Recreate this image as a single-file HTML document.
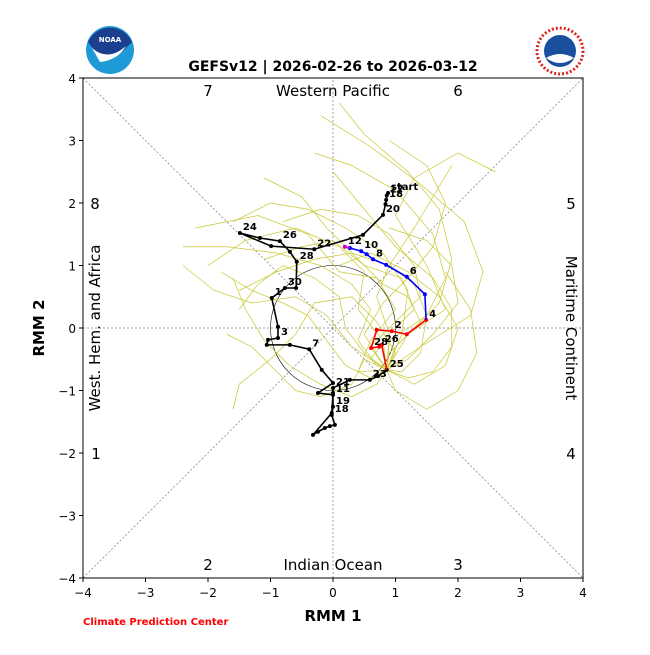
<!DOCTYPE html>
<html><head><meta charset="utf-8"><style>
body{margin:0;background:#fff;width:650px;height:650px;overflow:hidden}
svg text{font-family:"DejaVu Sans","Liberation Sans",sans-serif}
</style></head><body>
<svg id="chart" width="650" height="650" viewBox="0 0 650 650">
<g>
<circle cx="110" cy="50" r="24" fill="#1e9bd7"/>
<path d="M88,42 A24,24 0 0 1 132,42 L126,48 Q116,60 100,58 Q94,50 88,42Z" fill="#1a3f8f"/>
<path d="M92,48 Q108,62 126,46 Q118,60 100,62Z" fill="#fff"/>
<text x="110" y="42" font-size="7" font-weight="bold" fill="#fff" text-anchor="middle">NOAA</text>
</g>
<g>
<circle cx="560" cy="51" r="23" fill="#fff" stroke="#d22" stroke-width="3" stroke-dasharray="2 2"/>
<circle cx="560" cy="51" r="16" fill="#1a4fa0"/>
<path d="M546,58 Q560,50 574,58 Q560,68 546,58Z" fill="#fff"/>
</g>
<text x="333" y="71" font-size="14" font-weight="bold" text-anchor="middle">GEFSv12 | 2026-02-26 to 2026-03-12</text>
<g id="plot"></g>
<rect x="83" y="78" width="500" height="500" fill="none" stroke="#000" stroke-width="1"/>
<text x="333" y="621" font-size="15" font-weight="bold" text-anchor="middle">RMM 1</text>
<text x="44" y="328" font-size="15" font-weight="bold" text-anchor="middle" transform="rotate(-90 44 328)">RMM 2</text>
<text x="83" y="625" font-size="10" font-weight="bold" fill="#f00">Climate Prediction Center</text>
</svg>
<script>
const ticks=[-4,-3,-2,-1,0,1,2,3,4];
const obsDates=["start","17","18","19","20","21","22","23","24","25","26","27","28","29","30","1","2","3","4","5","6","7","8","9","10","11","12","13","14","15","16","17","18","19","20","21","22","23","24","25"];
const obsX=[0.88,0.86,0.85,0.84,0.80,0.48,-0.30,-0.99,-1.49,-1.17,-0.85,-0.69,-0.58,-0.59,-0.77,-0.98,-0.88,-0.88,-1.04,-1.06,-0.69,-0.38,-0.18,0.0,-0.24,0.0,-0.02,-0.32,-0.24,-0.13,-0.05,0.03,-0.02,0.0,0.0,0.0,0.27,0.59,0.72,0.86];
const obsY=[2.16,2.12,2.05,1.98,1.81,1.49,1.26,1.31,1.52,1.44,1.39,1.22,1.06,0.64,0.64,0.48,0.02,-0.16,-0.19,-0.27,-0.27,-0.34,-0.67,-0.88,-1.04,-1.07,-1.36,-1.71,-1.66,-1.60,-1.57,-1.55,-1.39,-1.26,-1.04,-0.96,-0.83,-0.83,-0.77,-0.67];
const obsShow=[1,1,1,0,1,0,1,0,1,0,1,0,1,0,1,1,0,1,0,0,0,1,0,0,0,1,0,0,0,0,0,0,1,1,0,1,0,1,0,1];
const fcDates=["25","26","27","28","1","2","3","4","5","6","7","8","9","10","11","12"];
const fcX=[0.86,0.78,0.74,0.61,0.70,0.94,1.18,1.49,1.47,1.18,0.85,0.64,0.54,0.45,0.27,0.19];
const fcY=[-0.67,-0.27,-0.30,-0.32,-0.03,-0.05,-0.10,0.13,0.54,0.82,1.01,1.10,1.18,1.23,1.28,1.30];
const members=[
[[0.86,-0.67],[0.6,-0.3],[1.0,0.1],[1.4,0.5],[1.3,1.0],[0.9,1.5],[0.4,1.8],[-0.2,1.9],[-0.8,1.7]],
[[0.86,-0.67],[0.9,-0.2],[1.5,0.2],[1.8,0.8],[1.6,1.5],[1.0,2.2],[0.3,2.6],[-0.3,2.8]],
[[0.86,-0.67],[0.5,-0.4],[0.2,0.0],[0.1,0.5],[-0.3,0.8],[-0.8,1.0],[-1.2,0.7],[-1.5,0.3]],
[[0.86,-0.67],[1.2,-0.5],[1.6,-0.1],[2.0,0.4],[1.9,1.0],[1.5,1.4],[0.9,1.6]],
[[0.86,-0.67],[0.7,-0.9],[0.3,-1.1],[-0.2,-0.9],[-0.7,-0.6],[-1.1,-0.2],[-1.4,0.3],[-1.6,0.8]],
[[0.86,-0.67],[1.1,-0.1],[1.2,0.6],[0.8,1.2],[0.2,1.6],[-0.4,1.9],[-1.0,2.0],[-1.6,1.7]],
[[0.86,-0.67],[0.5,-0.1],[0.8,0.4],[1.2,0.8],[1.6,1.3],[1.8,2.0],[1.5,2.6],[0.9,3.0]],
[[0.86,-0.67],[1.3,-0.9],[1.8,-0.6],[2.0,0.0],[1.7,0.5],[1.2,0.9],[0.6,1.2],[0.1,1.0]],
[[0.86,-0.67],[0.6,-0.5],[0.9,-0.1],[1.3,0.3],[1.1,0.8],[0.5,1.0],[0.0,1.4],[-0.5,1.3],[-1.1,1.1]],
[[0.86,-0.67],[1.0,-0.4],[0.7,0.1],[0.3,0.5],[-0.3,0.4],[-0.6,-0.1],[-1.0,-0.5],[-1.5,-0.9],[-1.6,-1.3]],
[[0.86,-0.67],[1.4,-0.3],[2.2,0.2],[2.4,0.9],[2.1,1.7],[1.4,2.3],[0.6,2.9],[-0.2,3.4]],
[[0.86,-0.67],[0.4,-0.7],[0.6,-0.2],[1.0,0.3],[0.7,0.8],[0.1,0.9],[-0.4,1.5],[-1.2,1.8],[-2.2,1.6]],
[[0.86,-0.67],[1.2,-0.1],[1.8,0.3],[1.5,1.0],[1.0,1.8],[1.3,2.4],[2.0,2.8],[2.6,2.5]],
[[0.86,-0.67],[0.3,-0.3],[-0.1,0.2],[-0.6,0.5],[-1.3,0.4],[-1.9,0.6],[-2.4,1.0]],
[[0.86,-0.67],[1.0,-1.0],[1.5,-1.3],[2.0,-1.0],[2.3,-0.4],[2.2,0.3],[1.8,0.9]],
[[0.86,-0.67],[0.8,-0.2],[0.4,0.3],[0.5,0.9],[0.1,1.3],[-0.6,1.6],[-1.4,1.4],[-2.0,1.0]],
[[0.86,-0.67],[0.9,-0.4],[1.3,0.0],[1.7,0.4],[1.9,1.1],[1.7,1.9],[1.2,2.5],[0.5,3.1],[0.1,3.6]],
[[0.86,-0.67],[0.7,-0.6],[0.4,-0.2],[0.6,0.3],[0.3,0.7],[-0.2,1.0],[-0.9,1.2],[-1.7,1.3],[-2.4,1.3]],
[[0.86,-0.67],[1.1,-0.7],[1.4,-0.4],[1.5,0.2],[1.3,0.7],[0.9,1.0],[0.3,1.2],[-0.3,1.1],[-0.9,0.9],[-1.5,0.6]],
[[0.86,-0.67],[0.6,-0.8],[0.2,-0.6],[-0.1,-0.2],[-0.4,0.2],[-0.8,0.4],[-1.3,0.6],[-1.8,0.9]],
[[0.86,-0.67],[1.2,-0.8],[1.6,-0.7],[1.9,-0.3],[1.9,0.3],[1.6,0.8],[1.0,1.3],[0.5,1.9],[0.0,2.5]],
[[0.86,-0.67],[0.9,-0.1],[0.7,0.5],[0.9,1.0],[1.3,1.6],[1.6,2.1],[1.9,2.6]],
[[0.86,-0.67],[0.5,-0.5],[0.3,-0.9],[-0.2,-1.1],[-0.6,-1.0],[-0.9,-0.7],[-1.3,-0.3],[-1.7,-0.1]],
[[0.86,-0.67],[1.0,-0.3],[1.4,0.1],[1.2,0.5],[0.8,0.7],[0.4,1.1],[-0.1,1.6],[-0.5,2.1],[-1.1,2.4]]
];
const X0=83,X1=583,Y0=578,Y1=78;
const sx=v=>X0+(v+4)/8*(X1-X0);
const sy=v=>Y0-(v+4)/8*(Y0-Y1);
const NS='http://www.w3.org/2000/svg';
const plot=document.getElementById('plot');
function mk(tag,attrs,parent){const e=document.createElementNS(NS,tag);for(const k in attrs)e.setAttribute(k,attrs[k]);(parent||plot).appendChild(e);return e;}
let d=mk('line',{x1:sx(-4),y1:sy(-4),x2:sx(4),y2:sy(4),stroke:'#777','stroke-width':0.7,'stroke-dasharray':'2 2'});


d=mk('line',{x1:sx(-4),y1:sy(4),x2:sx(4),y2:sy(-4),stroke:'#777','stroke-width':0.7,'stroke-dasharray':'2 2'});


d=mk('line',{x1:sx(0),y1:sy(-4),x2:sx(0),y2:sy(4),stroke:'#777','stroke-width':0.7,'stroke-dasharray':'2 2'});


d=mk('line',{x1:sx(-4),y1:sy(0),x2:sx(4),y2:sy(0),stroke:'#777','stroke-width':0.7,'stroke-dasharray':'2 2'});


d=mk('circle',{cx:sx(0),cy:sy(0),r:sx(1)-sx(0),fill:'none',stroke:'#000','stroke-width':0.6});


ticks.forEach(t=>{
 let a=mk('line',{x1:sx(t),y1:Y0,x2:sx(t),y2:Y0+4,stroke:'#000'});
 
 
 let tx=mk('text',{x:sx(t),y:Y0+19,'font-size':12,'text-anchor':'middle'});tx.textContent=(t<0?'\u2212'+(-t):t);
 
 
 let b=mk('line',{x1:X0-4,y1:sy(t),x2:X0,y2:sy(t),stroke:'#000'});
 
 
 let ty=mk('text',{x:X0-7,y:sy(t)+5,'font-size':12,'text-anchor':'end'});ty.textContent=(t<0?'\u2212'+(-t):t);
 
 
});
const phaseNums=[["7",208,96],["6",458,96],["8",95,209],["5",571,209],["1",96,459],["4",571,459],["2",208,570],["3",458,570]];
phaseNums.forEach(p=>{let t=mk('text',{x:p[1],y:p[2],'font-size':15,'text-anchor':'middle'});t.textContent=p[0];
 
 });
let r=mk('text',{x:333,y:96,'font-size':15,'text-anchor':'middle'});r.textContent='Western Pacific';


r=mk('text',{x:333,y:570,'font-size':15,'text-anchor':'middle'});r.textContent='Indian Ocean';


r=mk('text',{x:100,y:328,'font-size':15,'text-anchor':'middle',transform:'rotate(-90 100 328)'});r.textContent='West. Hem. and Africa';


r=mk('text',{x:566,y:328,'font-size':15,'text-anchor':'middle',transform:'rotate(90 566 328)'});r.textContent='Maritime Continent';


members.forEach(m=>{
 let p=mk('polyline',{points:m.map(q=>sx(q[0])+','+sy(q[1])).join(' '),fill:'none',stroke:'#c8c832','stroke-width':0.7});
 
 
});
let ob=mk('polyline',{points:obsX.map((v,i)=>sx(v)+','+sy(obsY[i])).join(' '),fill:'none',stroke:'#000','stroke-width':1.6});


obsX.forEach((v,i)=>{
 let c=mk('circle',{cx:sx(v),cy:sy(obsY[i]),r:2,fill:'#000'});
 
 
 if(obsShow[i]){let t=mk('text',{x:sx(v)+3,y:sy(obsY[i])-3,'font-size':10,'font-weight':'bold'});t.textContent=obsDates[i];
 
 }
});
function seg(a,b,col,name){
 let p=mk('polyline',{points:fcX.slice(a,b+1).map((v,i)=>sx(v)+','+sy(fcY[a+i])).join(' '),fill:'none',stroke:col,'stroke-width':1.6});
 
 
 for(let i=a+1;i<=b;i++){let c=mk('circle',{cx:sx(fcX[i]),cy:sy(fcY[i]),r:2,fill:col});
 
 }
}
seg(0,7,'#f00','forecast-week1-line');
seg(7,14,'#00f','forecast-week2-line');
seg(14,15,'#c0c','forecast-week3-line');
const fcShow=[1,1,0,1,0,1,0,1,0,1,0,1,0,1,0,1];
fcX.forEach((v,i)=>{if(fcShow[i]&&i>0){let t=mk('text',{x:sx(v)+3,y:sy(fcY[i])-3,'font-size':10,'font-weight':'bold'});t.textContent=fcDates[i];
 
 }});
</script>
</body></html>
